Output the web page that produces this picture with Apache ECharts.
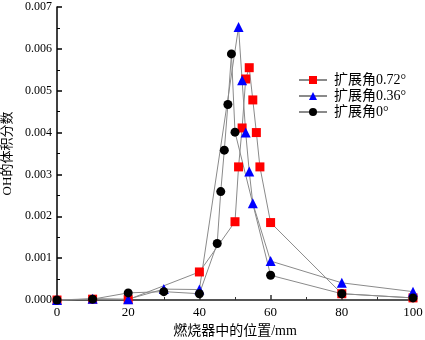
<!DOCTYPE html>
<html><head><meta charset="utf-8">
<script src="https://cdn.jsdelivr.net/npm/echarts@6/dist/echarts.min.js"></script>
<style>html,body{margin:0;padding:0;background:#fff}#c{width:425px;height:340px}</style>
</head><body><div id="c"></div>
<script>
var seriesNames = ['扩展角0.72°', '扩展角0.36°', '扩展角0°'];
var redX = [0, 10, 20, 40, 50, 51, 52, 53, 54, 55, 56, 57, 60, 80, 100];
var redY = [0, 0.00002, 0.00001, 0.00067, 0.00187, 0.00318, 0.00411, 0.00528, 0.00555, 0.00478, 0.0040, 0.00318, 0.00185, 0.00015, 0.00005];
var blueX = [0, 10, 20, 30, 40, 51, 52, 53, 54, 55, 60, 80, 100];
var blueY = [0, 0.00003, 0.00002, 0.00026, 0.00025, 0.00652, 0.00525, 0.0040, 0.00307, 0.00231, 0.00093, 0.00041, 0.0002];
var blackX = [0, 10, 20, 30, 40, 45, 46, 47, 48, 49, 50, 60, 80, 100];
var blackY = [0, 0.00002, 0.00017, 0.0002, 0.00015, 0.00135, 0.00259, 0.00358, 0.00467, 0.00588, 0.00401, 0.00059, 0.00015, 0.00005];
var xTicks = [0, 20, 40, 60, 80, 100];
var yTicks = [0, 0.001, 0.002, 0.003, 0.004, 0.005, 0.006, 0.007];

function pairs(xs, ys){ return xs.map(function(x,i){ return [x, ys[i]]; }); }
var FONT = "'Liberation Serif', 'Noto Sans CJK SC', serif";
var chart = echarts.init(document.getElementById('c'));
function mk(name, xs, ys, sym, size, col){
  return {name:name, type:'line', data:pairs(xs,ys), symbol:sym, symbolSize:size, showAllSymbol:true,
    lineStyle:{color:'#8a8a8a', width:1}, itemStyle:{color:col, borderWidth:0}, clip:false, z:3};
}
chart.setOption({
  animation:false,
  grid:{left:57, right:12, top:7, bottom:40, containLabel:false, outerBoundsMode:'none'},
  legend:{
    top:68, left:293, orient:'vertical', itemGap:2, itemWidth:28, itemHeight:10,
    textStyle:{fontFamily:FONT, fontSize:14, color:'#000', padding:[0,0,0,2]},
    data:seriesNames
  },
  xAxis:{
    type:'value', min:0, max:100, interval:20,
    name:'燃烧器中的位置/mm', nameLocation:'middle', nameGap:22,
    nameTextStyle:{fontFamily:FONT, fontSize:14, color:'#000'},
    axisLine:{show:true, onZero:false, lineStyle:{color:'#555', width:2}},
    axisTick:{show:true, inside:true, length:5, lineStyle:{color:'#333', width:1.5}},
    minorTick:{show:true, splitNumber:2, length:3, lineStyle:{color:'#333', width:1}},
    axisLabel:{fontFamily:FONT, fontSize:13, color:'#000', margin:6},
    splitLine:{show:false}
  },
  yAxis:{
    type:'value', min:0, max:0.007, interval:0.001,
    name:'OH的体积分数', nameLocation:'middle', nameGap:38,
    nameTextStyle:{fontFamily:FONT, fontSize:13, color:'#000'},
    axisLine:{show:true, lineStyle:{color:'#000', width:1.5}},
    axisTick:{show:true, inside:true, length:5, lineStyle:{color:'#000', width:1.5}},
    minorTick:{show:true, splitNumber:2, length:3, lineStyle:{color:'#000', width:1}},
    axisLabel:{fontFamily:FONT, fontSize:12, color:'#000', margin:5,
      formatter:function(v){ return v.toFixed(3); }},
    splitLine:{show:false}
  },
  series:[
    mk(seriesNames[0], redX, redY, 'rect', 9, '#ff0000'),
    mk(seriesNames[1], blueX, blueY, 'triangle', 10, '#0000ff'),
    mk(seriesNames[2], blackX, blackY, 'circle', 9, '#000000')
  ]
});
</script></body></html>
